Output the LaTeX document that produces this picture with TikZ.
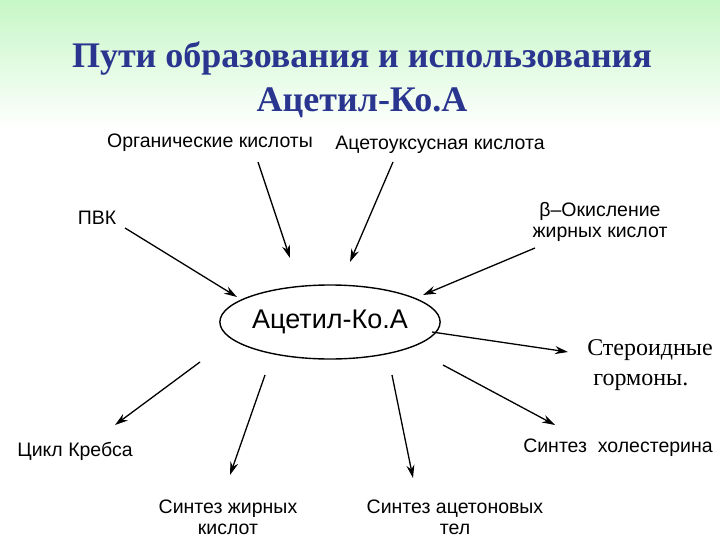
\documentclass[tikz,border=0pt]{standalone}
\usepackage{fontspec}
\setmainfont{Liberation Sans}
\newfontfamily\serif{Liberation Serif}
\usetikzlibrary{arrows.meta,shapes.geometric}
\definecolor{titleblue}{HTML}{2A3590}
\definecolor{bggreen}{HTML}{C6F7C6}
\begin{document}
\begin{tikzpicture}[x=1pt,y=-1pt,
  lbl/.style={font=\fontsize{19.5}{21}\selectfont,align=center,inner sep=1pt},
  arr/.style={line width=1.3pt,-{Stealth[length=13pt,width=8pt]}},
  ser/.style={font=\serif\fontsize{24}{30}\selectfont,align=left,inner sep=1pt}]
\useasboundingbox (0,0) rectangle (720,540);
\shade[top color=bggreen,bottom color=white] (0,0) rectangle (720,130);
\node[font=\serif\bfseries\fontsize{36}{44}\selectfont,text=titleblue,align=center] (title) at (362,80) {Пути образования и использования\\Ацетил-Ко.А};
\node[draw,ellipse,line width=1.4pt,minimum width=190,minimum height=74,inner sep=0pt,font=\fontsize{27}{30}\selectfont] (acoa) at (330,322) {Ацетил-Ко.А};
\node[lbl] (org) at (210,143) {Органические кислоты};
\node[lbl] (aca) at (440,145) {Ацетоуксусная кислота};
\node[lbl] (pvk) at (97,218) {ПВК};
\node[lbl] (box) at (600,222) {β–Окисление\\жирных кислот};
\node[ser] (ster) at (650,365) {Стероидные\\\ гормоны.};
\node[lbl] (krebs) at (75,451) {Цикл Кребса};
\node[lbl] (fat) at (228,517) {Синтез жирных\\кислот};
\node[lbl] (acet) at (455,517) {Синтез ацетоновых\\тел};
\node[lbl] (chol) at (618,448) {Синтез\ \ холестерина};
\coordinate (a1) at (258,162); \coordinate (b1) at (290,258);
\coordinate (a2) at (393,162); \coordinate (b2) at (350,262);
\coordinate (a3) at (125,228); \coordinate (b3) at (237,297);
\coordinate (a4) at (535,248); \coordinate (b4) at (423,295);
\coordinate (a5) at (432,332); \coordinate (b5) at (568,352);
\coordinate (a6) at (200,362); \coordinate (b6) at (115,425);
\coordinate (a7) at (265,375); \coordinate (b7) at (230,475);
\coordinate (a8) at (392,375); \coordinate (b8) at (413,478);
\coordinate (a9) at (443,365); \coordinate (b9) at (555,425);
\foreach \i in {1,...,9} \draw[arr] (a\i) -- (b\i);
\end{tikzpicture}
\end{document}
